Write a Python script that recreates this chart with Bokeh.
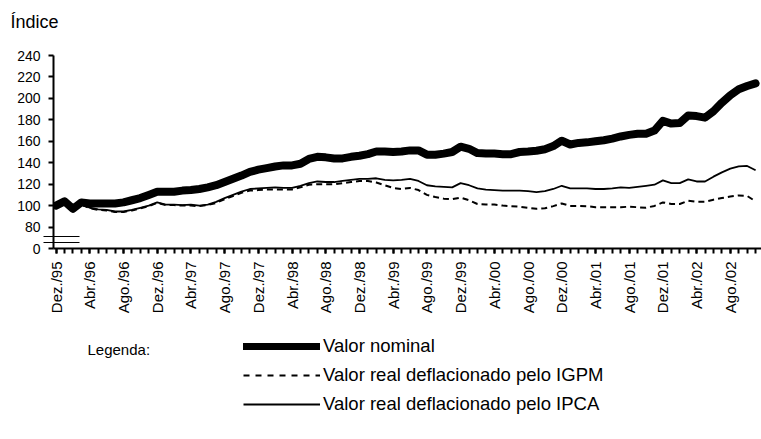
import math
from bokeh.plotting import figure
from bokeh.layouts import column
from bokeh.models import (FixedTicker, Legend, LegendItem, Label, Range1d)
from bokeh.embed import file_html
from bokeh.resources import INLINE

# monthly index: 0 = Dez./95 ... 83 = Nov./02
months = list(range(84))

nominal = [100, 104, 97, 103, 102, 102, 102, 102, 103, 105,
           107, 110, 113, 113, 113, 114, 114.5, 115.5, 117, 119,
           122, 125, 128, 131.5, 133.5, 135, 136.5, 137.5, 137.5, 139,
           143.5, 145.5, 145, 144, 144, 145.5, 146.5, 148, 150.5, 150.5,
           150, 150.5, 151.5, 151.5, 147.5, 147.5, 148.5, 150, 155, 153,
           149, 148.5, 148.5, 148, 148, 150, 150.5, 151.2, 152.5, 155.5,
           160.5, 157, 158.5, 159, 160, 161, 162.5, 164.5, 166, 167,
           167, 170, 179, 176.5, 177, 184, 183.5, 182, 188, 196,
           203, 208.5, 211.5, 214]

igpm = [100, 103, 97, 101, 97.5, 96, 95.5, 94, 94, 95.5,
        97.5, 99.5, 102.5, 100.5, 100.5, 100, 100, 99.5, 100.5, 102.5,
        106, 109, 112, 114, 114.5, 115, 115, 115, 115, 117,
        119.5, 120, 120, 120, 121, 122, 123, 123, 121.5, 119,
        116.5, 115.5, 116.5, 114.5, 110, 108, 106.5, 106, 107.5, 105,
        101.5, 101, 101, 100, 99.5, 99, 98, 97, 97.5, 99.5,
        102, 99.7, 99.7, 99.5, 98.5, 98.5, 98.5, 98.5, 99, 98.5,
        98, 99.7, 103, 101.5, 101.5, 104.5, 103.5, 103.5, 105.5, 107,
        108.5, 109.5, 109, 104]

ipca = [100, 103, 97, 101, 98, 96.5, 96, 94.5, 94.5, 96,
        98, 100, 103, 101, 101, 100.5, 101, 100, 101, 103.5,
        107, 110, 113, 115.5, 116, 116.5, 117, 116.5, 116.5, 118.5,
        121, 122.5, 122, 122, 123, 124, 125, 125, 125.5, 124,
        123.5, 124, 125, 123, 119, 118, 117.5, 117, 121, 119,
        116, 115, 114.5, 114, 114, 114, 113.5, 112.5, 113.5, 115.5,
        118.5, 116, 116, 116, 115.5, 115.5, 116, 117, 116.5, 117.5,
        118.5, 119.5, 123.5, 121, 121, 124.5, 122.5, 122.5, 127, 131,
        134.5, 136.5, 137, 133]

x_tick_positions = list(range(0, 84, 4))
x_tick_labels = ["Dez./95", "Abr./96", "Ago./96", "Dez./96", "Abr./97", "Ago./97",
                 "Dez./97", "Abr./98", "Ago./98", "Dez./98", "Abr./99", "Ago./99",
                 "Dez./99", "Abr./00", "Ago./00", "Dez./00", "Abr./01", "Ago./01",
                 "Dez./01", "Abr./02", "Ago./02"]
y_tick_positions = [60, 80, 100, 120, 140, 160, 180, 200, 220, 240]
y_tick_labels = ["0", "80", "100", "120", "140", "160", "180", "200", "220", "240"]
axis_break_marks = [66, 71]

series_labels = ["Valor nominal",
                 "Valor real deflacionado pelo IGPM",
                 "Valor real deflacionado pelo IPCA"]

FONT = "Liberation Sans"

# ---------------- main chart ----------------
p = figure(width=761, height=320, x_range=Range1d(-0.3, 83.7), y_range=Range1d(60, 240),
           output_backend="svg", toolbar_location=None,
           min_border_left=53, min_border_right=0, min_border_top=55, min_border_bottom=72)
p.outline_line_color = None
p.grid.visible = False
p.background_fill_color = "white"
p.border_fill_color = "white"

p.title.text = "Índice\n "
p.title.align = "left"
p.title.vertical_align = "bottom"
p.title.offset = -43
p.title.standoff = 8
p.title.text_font = FONT
p.title.text_font_size = "18px"
p.title.text_font_style = "normal"
p.title.text_color = "black"

xa = p.xaxis[0]
xa.ticker = FixedTicker(ticks=x_tick_positions, minor_ticks=months)
xa.major_label_overrides = {t: l for t, l in zip(x_tick_positions, x_tick_labels)}
xa.major_label_orientation = math.pi / 2
xa.major_label_text_font = FONT
xa.major_label_text_font_size = "15px"
xa.major_label_text_color = "black"
xa.major_label_standoff = 8
xa.axis_line_width = 2
xa.axis_line_color = "black"
xa.major_tick_in = 0
xa.major_tick_out = 5
xa.minor_tick_in = 0
xa.minor_tick_out = 5
xa.major_tick_line_width = 2
xa.minor_tick_line_width = 2
xa.major_tick_line_color = "black"
xa.minor_tick_line_color = "black"

ya = p.yaxis[0]
ya.ticker = FixedTicker(ticks=y_tick_positions, minor_ticks=axis_break_marks)
ya.major_label_overrides = {t: l for t, l in zip(y_tick_positions, y_tick_labels)}
ya.major_label_text_font = FONT
ya.major_label_text_font_size = "14px"
ya.major_label_text_color = "black"
ya.major_label_standoff = 3
ya.axis_line_width = 2
ya.axis_line_color = "black"
ya.major_tick_in = 0
ya.major_tick_out = 5
ya.major_tick_line_width = 2
ya.major_tick_line_color = "black"
# axis-break marks drawn as long minor ticks crossing the axis
ya.minor_tick_in = 26
ya.minor_tick_out = 10
ya.minor_tick_line_width = 1
ya.minor_tick_line_color = "black"

p.line(months, nominal, line_width=8, line_color="black", line_join="round", line_cap="round")
p.line(months, igpm, line_width=2, line_color="black", line_dash="6 4")
p.line(months, ipca, line_width=1.8, line_color="black")

# ---------------- legend area ----------------
q = figure(width=761, height=119, x_range=Range1d(1000, 1001), y_range=Range1d(1000, 1001),
           output_backend="svg", toolbar_location=None, x_axis_type=None, y_axis_type=None,
           min_border_left=0, min_border_right=0, min_border_top=0, min_border_bottom=0)
q.outline_line_color = None
q.grid.visible = False
q.background_fill_color = "white"
q.border_fill_color = "white"

l_nom = q.line(months, nominal, line_width=7, line_color="black", line_cap="round")
l_igpm = q.line(months, igpm, line_width=2, line_color="black", line_dash="6 6")
l_ipca = q.line(months, ipca, line_width=1.8, line_color="black")

legend = Legend(items=[LegendItem(label=series_labels[0], renderers=[l_nom]),
                       LegendItem(label=series_labels[1], renderers=[l_igpm]),
                       LegendItem(label=series_labels[2], renderers=[l_ipca])],
                location=(190, 24), orientation="vertical",
                glyph_width=77, glyph_height=20, label_height=20, label_standoff=3,
                spacing=7, padding=0, margin=0, border_line_color=None,
                background_fill_alpha=0,
                label_text_font=FONT, label_text_font_size="18.5px",
                label_text_color="black")
q.add_layout(legend, "center")

q.add_layout(Label(x=34, y=90, x_units="screen", y_units="screen", text="Legenda:",
                   text_font=FONT, text_font_size="15px", text_baseline="middle",
                   text_color="black"))

open("out.html", "w").write(file_html(column(p, q, spacing=0), INLINE))
